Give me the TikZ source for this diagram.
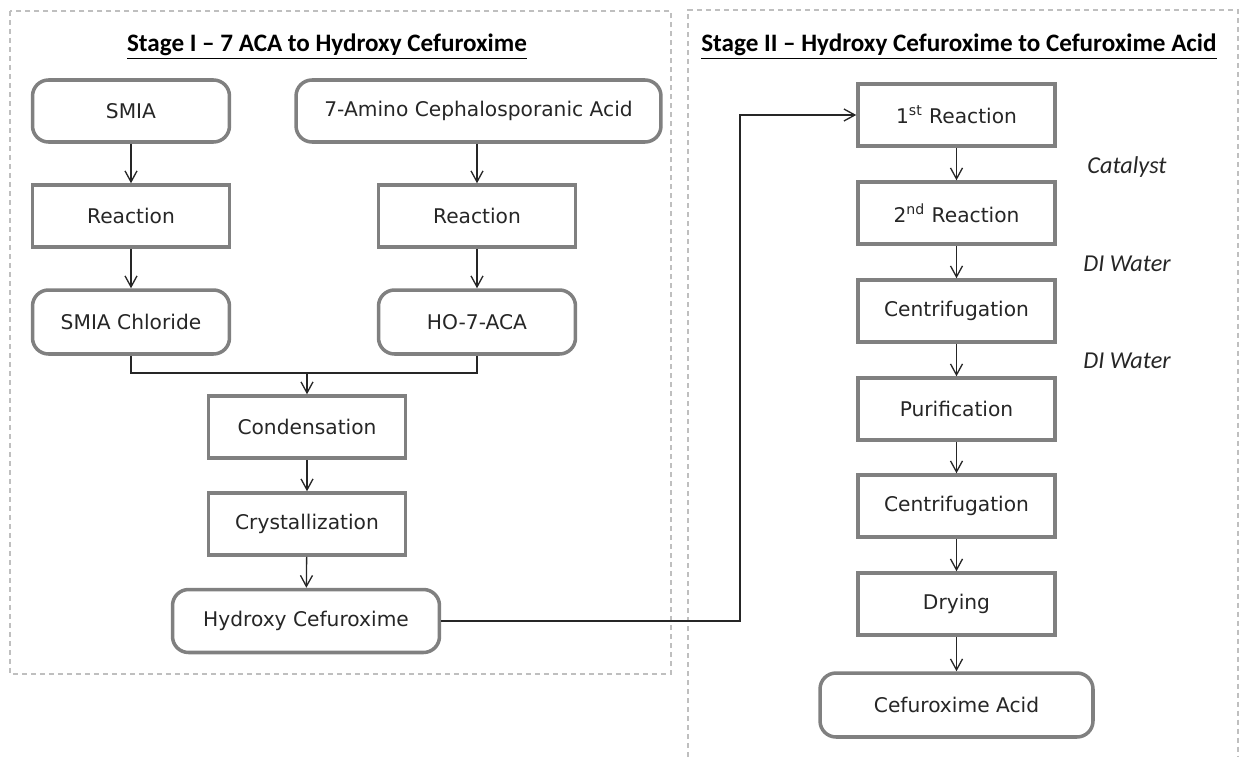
\documentclass[tikz,border=0pt]{standalone}
\usepackage{fontspec}
\setmainfont{DejaVu Sans}
\newfontfamily\titlefont{Carlito}[Ligatures=TeX]
\usetikzlibrary{arrows.meta}
\begin{document}
\begin{tikzpicture}[x=0.02cm,y=-0.02cm,
  boxstyle/.style={draw=black!50, line width=2pt, minimum width=3.94cm, minimum height=1.24cm, inner sep=0pt, font=\fontsize{11.5}{13}\selectfont, text=black!85, fill=white},
  roundbox/.style={boxstyle, rounded corners=0.32cm},
  arr/.style={draw=black!85, line width=0.75pt, -{Straight Barb[length=0.22cm,width=0.24cm]}},
  conn/.style={draw=black!85, line width=0.75pt},
  frame/.style={draw=black!25, line width=0.8pt, dash pattern=on 0.1cm off 0.08cm},
  ttl/.style={font=\titlefont\bfseries\fontsize{14.3}{16}\selectfont},
  note/.style={font=\titlefont\itshape\fontsize{13.8}{15}\selectfont, text=black!85}
]
\useasboundingbox (0,0) rectangle (1239,757);
% frames
\draw[frame] (10,11) rectangle (671,674);
\draw[frame] (688,757) -- (688,10) -- (1238,10) -- (1238,757);
% titles
\node[ttl] (t1) at (327,47) {\underline{Stage I – 7 ACA to Hydroxy Cefuroxime}};
\node[ttl] (t2) at (959,47) {\underline{Stage II – Hydroxy Cefuroxime to Cefuroxime Acid}};
% stage I
\node[roundbox] (smia) at (131,111) {SMIA};
\node[roundbox, minimum width=7.3cm] (aca) at (478.5,111) {7-Amino Cephalosporanic Acid};
\node[boxstyle] (reacl) at (131,216) {Reaction};
\node[boxstyle] (reacr) at (477,216) {Reaction};
\node[roundbox, minimum height=1.28cm] (smiacl) at (131,322) {SMIA Chloride};
\node[roundbox, minimum height=1.28cm] (ho) at (477,322) {HO-7-ACA};
\node[boxstyle] (cond) at (307,427) {Condensation};
\node[boxstyle] (cryst) at (307,524) {Crystallization};
\node[roundbox, minimum width=5.34cm, minimum height=1.26cm] (hyd) at (306,621) {Hydroxy Cefuroxime};
\coordinate (m) at (307,373);
\coordinate (jx) at (740,621);
\draw[arr] (smia) -- (reacl);
\draw[arr] (reacl) -- (smiacl);
\draw[arr] (aca.south -| reacr.north) -- (reacr);
\draw[arr] (reacr) -- (ho);
\draw[conn] (smiacl.south) |- (m);
\draw[conn] (ho.south) |- (m);
\draw[arr] (m) -- (cond);
\draw[arr] (cond) -- (cryst);
\draw[arr] (cryst) -- (hyd);
% stage II
\node[boxstyle] (r1) at (956.5,115) {1\textsuperscript{st} Reaction};
\node[boxstyle] (r2) at (956.5,213) {2\textsuperscript{nd} Reaction};
\node[boxstyle] (c1) at (956.5,311) {Centrifugation};
\node[boxstyle] (pur) at (956.5,409) {Purification};
\node[boxstyle] (c2) at (956.5,506) {Centrifugation};
\node[boxstyle] (dry) at (956.5,604) {Drying};
\node[roundbox, minimum width=5.46cm, minimum height=1.28cm] (acid) at (956.5,705) {Cefuroxime Acid};
\draw[arr] (hyd.east) -- (jx) |- (r1.west);
\draw[arr] (r1) -- (r2);
\draw[arr] (r2) -- (c1);
\draw[arr] (c1) -- (pur);
\draw[arr] (pur) -- (c2);
\draw[arr] (c2) -- (dry);
\draw[arr] (dry) -- (acid);
\node[note] (n1) at (1127,167) {Catalyst};
\node[note] (n2) at (1127,264) {DI Water};
\node[note] (n3) at (1127,361) {DI Water};
\end{tikzpicture}
\end{document}
